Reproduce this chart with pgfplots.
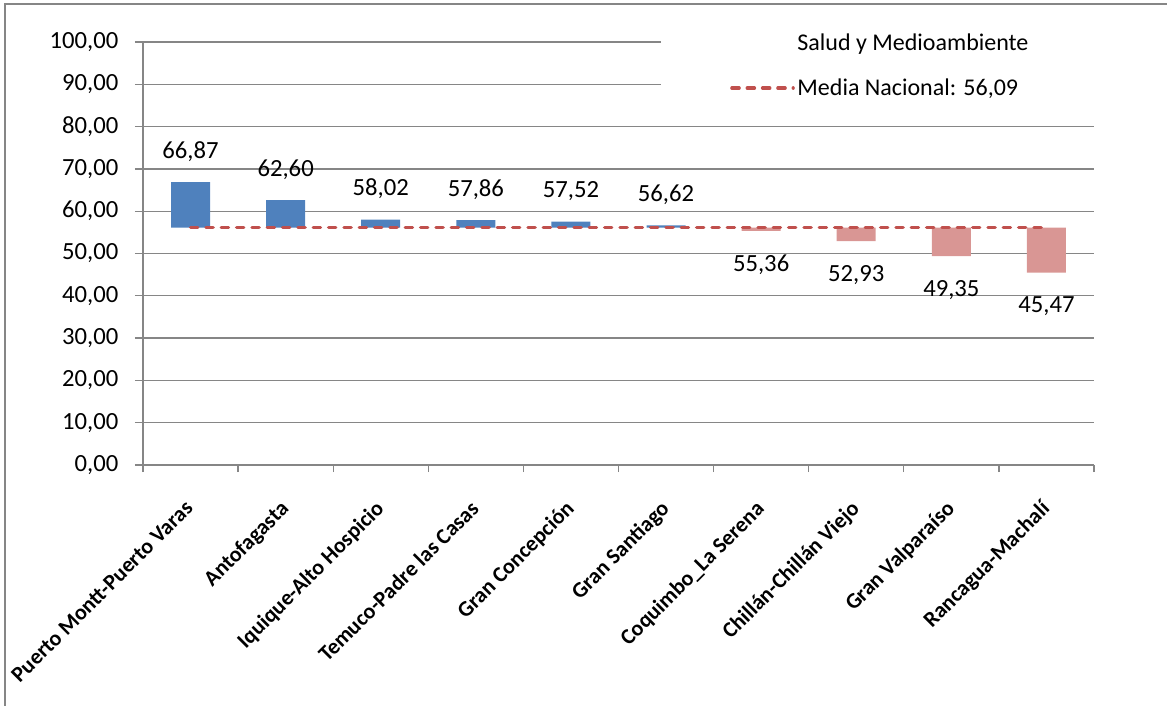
\documentclass[border=0pt]{standalone}
\usepackage{fontspec}
\setmainfont{Carlito}
\usepackage{pgfplots}
\usepackage{pgfplotstable}
\pgfplotsset{compat=1.18}
\definecolor{barblue}{HTML}{4F81BD}
\definecolor{barpink}{HTML}{D99694}
\definecolor{meanred}{HTML}{C0504D}
\definecolor{gridgray}{HTML}{868686}

% x, base (invisible), rise above mean, drop below mean
\pgfplotstableread{
x base up down
0 56.09 10.78 0
1 56.09 6.51 0
2 56.09 1.93 0
3 56.09 1.77 0
4 56.09 1.43 0
5 56.09 0.53 0
6 55.36 0 0.73
7 52.93 0 3.16
8 49.35 0 6.74
9 45.47 0 10.62
}\bartable

\pgfplotstableread{
x y lab
0 66.87 66,87
1 62.60 62,60
2 58.02 58,02
3 57.86 57,86
4 57.52 57,52
5 56.62 56,62
}\postable

\pgfplotstableread{
x y lab
6 55.36 55,36
7 52.93 52,93
8 49.35 49,35
9 45.47 45,47
}\negtable

\pgfplotsset{myaxis/.style={scale only axis, width=713.25pt, height=317.25pt,
  xmin=-0.5, xmax=9.5, ymin=0, ymax=100, at={(0,0)}, anchor=south west},
  dashlegend/.style={legend image code/.code={\draw[##1] (0pt,0pt) -- (46pt,0pt);}}}

\begin{document}
\begin{tikzpicture}
\begin{axis}[myaxis, ybar stacked, bar width=29.25pt,
  axis x line*=bottom, axis y line*=left,
  axis line style={gridgray, line width=1pt},
  ymajorgrids, grid style={gridgray, line width=1pt},
  tick align=outside,
  ytick={0,10,...,100},
  major tick length=6pt, minor tick length=5.25pt,
  ytick style={gridgray, line width=1pt},
  xtick={0,...,9},
  minor xtick={-0.5,0.5,...,9.5},
  major x tick style={draw=none},
  minor x tick style={gridgray, line width=1pt},
  xticklabels={Puerto Montt-Puerto Varas, Antofagasta, Iquique-Alto Hospicio, Temuco-Padre las Casas, Gran Concepción, Gran Santiago, Coquimbo\_La Serena, Chillán-Chillán Viejo, Gran Valparaíso, Rancagua-Machalí},
  xticklabel style={font=\bfseries\fontsize{16.5}{18}\selectfont, yshift=-18pt, xshift=-5pt, rotate=45, anchor=north east, inner sep=1pt},
  yticklabel style={font=\fontsize{18.5}{20}\selectfont, xshift=-9pt,
    /pgf/number format/.cd, fixed, fixed zerofill, precision=2, use comma, 1000 sep={}, assume math mode=true},
]
\addplot[fill=none, draw=none] table[x=x, y=base]{\bartable};
\addplot[fill=barblue, draw=none] table[x=x, y=up]{\bartable};
\addplot[fill=barpink, draw=none] table[x=x, y=down]{\bartable};
\end{axis}

\begin{axis}[myaxis, hide axis, clip=false,
  legend style={at={(0.613,1.032)}, anchor=north west, draw=none, fill=none,
    font=\fontsize{18}{20}\selectfont, row sep=15.5pt},
  legend cell align=left,
]
\fill[white] (rel axis cs:0.545,0.845) rectangle (rel axis cs:1.0,1.03);
\addlegendimage{empty legend}
\addlegendentry{Salud y Medioambiente}
\addplot[meanred, line width=2.4pt, dash pattern=on 5.5pt off 6pt, line cap=round, dashlegend]
  coordinates {(0,56.09) (9,56.09)};
\addlegendentry{Media Nacional: 56,09}
\addplot[draw=none, mark=none, nodes near coords, point meta=explicit symbolic,
  nodes near coords style={anchor=center, yshift=23pt, font=\fontsize{18.5}{20}\selectfont, text=black}]
  table[x=x, y=y, meta=lab]{\postable};
\addplot[draw=none, mark=none, nodes near coords, point meta=explicit symbolic,
  nodes near coords style={anchor=center, yshift=-25.5pt, font=\fontsize{18.5}{20}\selectfont, text=black}]
  table[x=x, y=y, meta=lab]{\negtable};
\end{axis}

\draw[gridgray, line width=1pt] (-103.5pt,-190pt) -- (-103.5pt,345.75pt) -- (780pt,345.75pt);
\pgfresetboundingbox
\path[use as bounding box] (-107.25pt,-180.75pt) rectangle (768pt,348.75pt);
\end{tikzpicture}
\end{document}
